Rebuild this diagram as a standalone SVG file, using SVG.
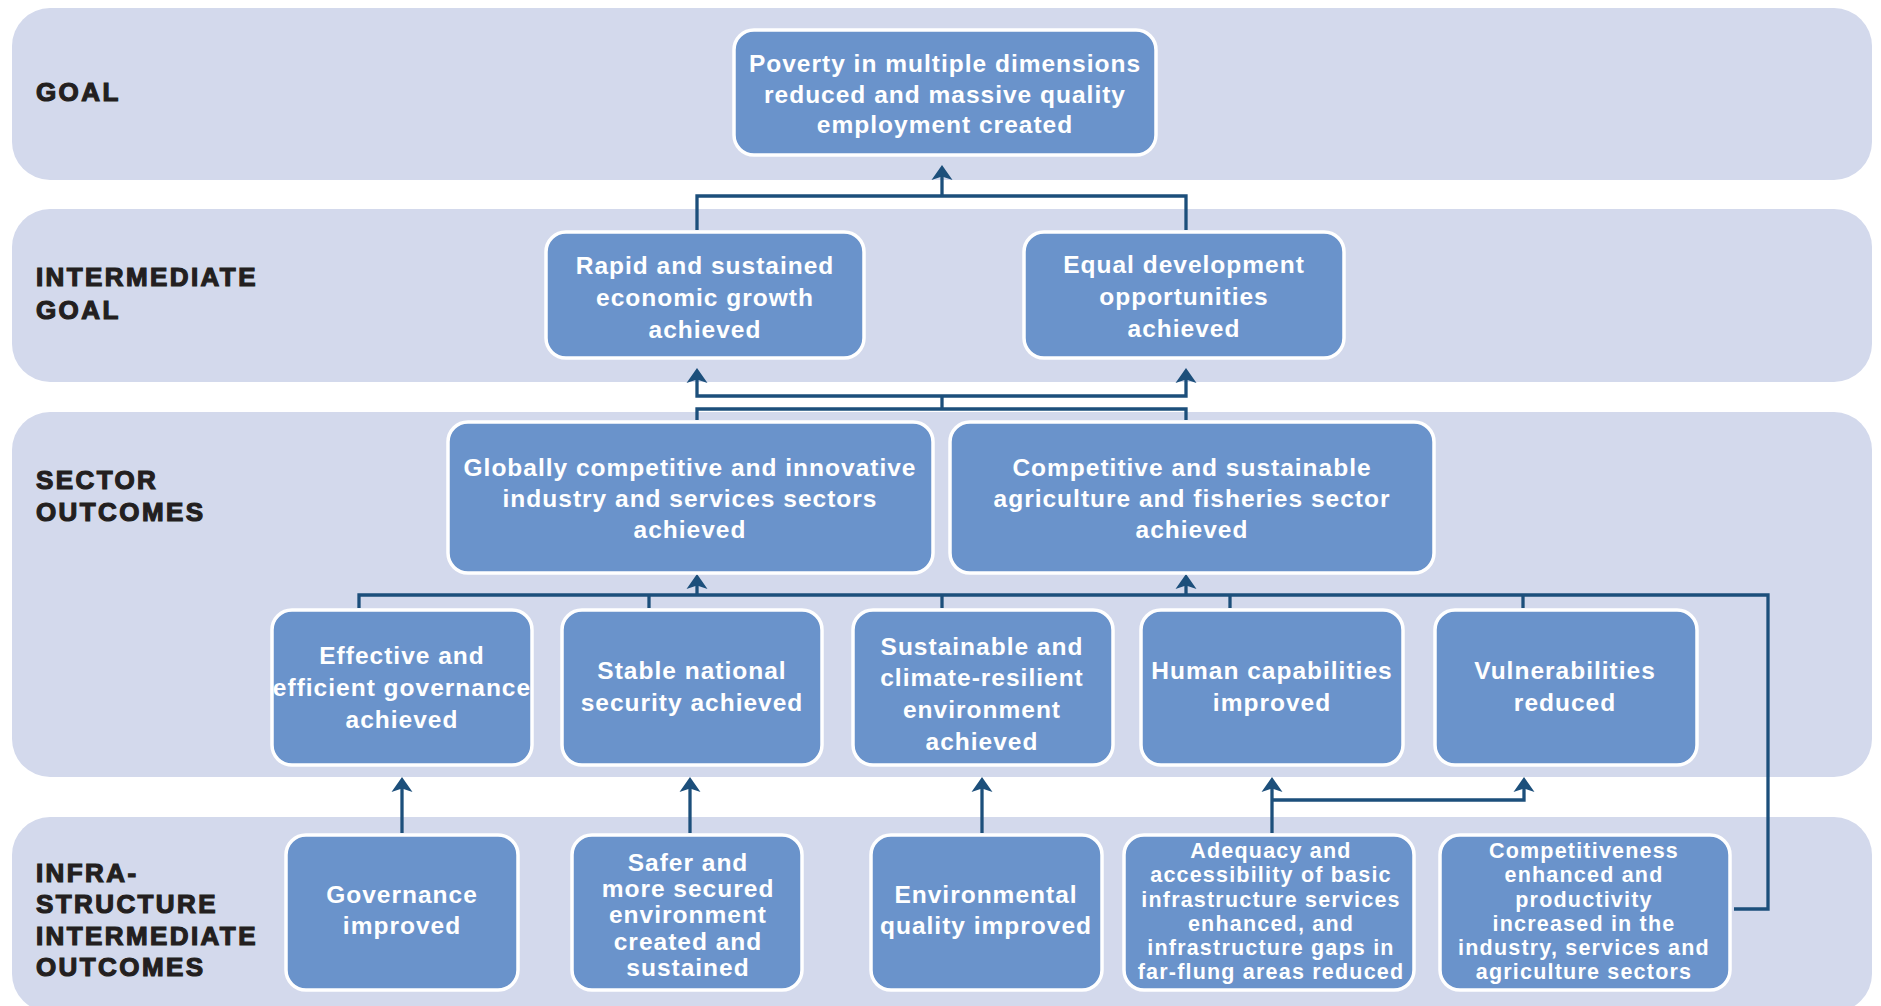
<svg xmlns="http://www.w3.org/2000/svg" width="1881" height="1006" viewBox="0 0 1881 1006">
  <defs>
    <style>
      .band { fill: #d3d9ec; }
      .node rect { fill: #6a93cb; stroke: #ffffff; stroke-width: 3.5; }
      .node text { font-family: "Liberation Sans", Arial, sans-serif; font-weight: bold; font-size: 24.5px; fill: #ffffff; text-anchor: middle; letter-spacing: 1px; }
      .node text.small { font-size: 21.5px; letter-spacing: 1.2px; }
      .lbl { font-family: "Liberation Sans", Arial, sans-serif; font-weight: bold; font-size: 26px; fill: #231f20; stroke: #231f20; stroke-width: 1.2px; letter-spacing: 2.4px; }
      .conn path { fill: none; stroke: #1c4f7b; stroke-width: 3.3; stroke-linejoin: miter; }
    </style>
    <marker id="arrow" markerUnits="userSpaceOnUse" viewBox="0 -11 16 22" refX="11" refY="0" markerWidth="16" markerHeight="22" orient="auto-start-reverse">
      <path d="M15,0 L0,-10.5 L3.5,0 L0,10.5 Z" fill="#1c4f7b"/>
    </marker>
  </defs>

  <!-- level bands -->
  <g id="bands">
    <rect class="band" x="12" y="8" width="1860" height="172" rx="38"/>
    <rect class="band" x="12" y="209" width="1860" height="173" rx="38"/>
    <rect class="band" x="12" y="412" width="1860" height="365" rx="38"/>
    <rect class="band" x="12" y="817" width="1860" height="195" rx="38"/>
  </g>

  <!-- level labels -->
  <g id="labels">
    <text class="lbl" x="36" y="101">GOAL</text>
    <text class="lbl" x="36" y="286">INTERMEDIATE</text>
    <text class="lbl" x="36" y="319">GOAL</text>
    <text class="lbl" x="36" y="489">SECTOR</text>
    <text class="lbl" x="36" y="521">OUTCOMES</text>
    <text class="lbl" x="36" y="882">INFRA-</text>
    <text class="lbl" x="36" y="913">STRUCTURE</text>
    <text class="lbl" x="36" y="945">INTERMEDIATE</text>
    <text class="lbl" x="36" y="976">OUTCOMES</text>
  </g>

  <!-- connectors -->
  <g id="connectors" class="conn">
    <path d="M697,230 V196 H1186 V230"/>
    <path d="M942,196 V169" marker-end="url(#arrow)"/>

    <path d="M697,372 V396 H1186 V372" marker-start="url(#arrow)" marker-end="url(#arrow)"/>
    <path d="M942,396 V409"/>
    <path d="M697,420 V409 H1186 V420"/>

    <path d="M359,608 V595 H1768 V909 H1734"/>
    <path d="M649,595 V608"/>
    <path d="M942,595 V608"/>
    <path d="M1230,595 V608"/>
    <path d="M1523,595 V608"/>
    <path d="M697,595 V578" marker-end="url(#arrow)"/>
    <path d="M1186,595 V578" marker-end="url(#arrow)"/>

    <path d="M402,833 V781" marker-end="url(#arrow)"/>
    <path d="M690,833 V781" marker-end="url(#arrow)"/>
    <path d="M982,833 V781" marker-end="url(#arrow)"/>
    <path d="M1272,833 V781" marker-end="url(#arrow)"/>
    <path d="M1272,800 H1524 V781" marker-end="url(#arrow)"/>
  </g>

  <!-- goal -->
  <g id="goal" class="node">
    <rect x="734" y="30" width="422" height="125" rx="20"/>
    <text x="945" y="72">Poverty in multiple dimensions</text>
    <text x="945" y="102.5">reduced and massive quality</text>
    <text x="945" y="133">employment created</text>
  </g>

  <!-- intermediate goals -->
  <g id="growth" class="node">
    <rect x="546" y="232" width="318" height="126" rx="20"/>
    <text x="705" y="274">Rapid and sustained</text>
    <text x="705" y="306">economic growth</text>
    <text x="705" y="338">achieved</text>
  </g>
  <g id="equal-opportunities" class="node">
    <rect x="1024" y="232" width="320" height="126" rx="20"/>
    <text x="1184" y="273">Equal development</text>
    <text x="1184" y="305">opportunities</text>
    <text x="1184" y="337">achieved</text>
  </g>

  <!-- sector outcomes -->
  <g id="industry-services" class="node">
    <rect x="448" y="422" width="485" height="151" rx="20"/>
    <text x="690" y="476">Globally competitive and innovative</text>
    <text x="690" y="507">industry and services sectors</text>
    <text x="690" y="538">achieved</text>
  </g>
  <g id="agriculture-fisheries" class="node">
    <rect x="950" y="422" width="484" height="151" rx="20"/>
    <text x="1192" y="476">Competitive and sustainable</text>
    <text x="1192" y="507">agriculture and fisheries sector</text>
    <text x="1192" y="538">achieved</text>
  </g>

  <g id="governance" class="node">
    <rect x="272" y="610" width="260" height="155" rx="20"/>
    <text x="402" y="664">Effective and</text>
    <text x="402" y="696">efficient governance</text>
    <text x="402" y="728">achieved</text>
  </g>
  <g id="security" class="node">
    <rect x="562" y="610" width="260" height="155" rx="20"/>
    <text x="692" y="679">Stable national</text>
    <text x="692" y="711">security achieved</text>
  </g>
  <g id="environment" class="node">
    <rect x="853" y="610" width="260" height="155" rx="20"/>
    <text x="982" y="655">Sustainable and</text>
    <text x="982" y="686">climate-resilient</text>
    <text x="982" y="718">environment</text>
    <text x="982" y="750">achieved</text>
  </g>
  <g id="human-capabilities" class="node">
    <rect x="1141" y="610" width="262" height="155" rx="20"/>
    <text x="1272" y="679">Human capabilities</text>
    <text x="1272" y="711">improved</text>
  </g>
  <g id="vulnerabilities" class="node">
    <rect x="1435" y="610" width="262" height="155" rx="20"/>
    <text x="1565" y="679">Vulnerabilities</text>
    <text x="1565" y="711">reduced</text>
  </g>

  <!-- infrastructure intermediate outcomes -->
  <g id="governance-improved" class="node">
    <rect x="286" y="835" width="232" height="155" rx="20"/>
    <text x="402" y="903">Governance</text>
    <text x="402" y="934">improved</text>
  </g>
  <g id="safer-environment" class="node">
    <rect x="572" y="835" width="230" height="155" rx="20"/>
    <text x="688" y="871">Safer and</text>
    <text x="688" y="897">more secured</text>
    <text x="688" y="923">environment</text>
    <text x="688" y="950">created and</text>
    <text x="688" y="976">sustained</text>
  </g>
  <g id="environmental-quality" class="node">
    <rect x="871" y="835" width="231" height="155" rx="20"/>
    <text x="986" y="903">Environmental</text>
    <text x="986" y="934">quality improved</text>
  </g>
  <g id="basic-infrastructure" class="node">
    <rect x="1124" y="835" width="290" height="155" rx="20"/>
    <text class="small" x="1271" y="858">Adequacy and</text>
    <text class="small" x="1271" y="882">accessibility of basic</text>
    <text class="small" x="1271" y="907">infrastructure services</text>
    <text class="small" x="1271" y="931">enhanced, and</text>
    <text class="small" x="1271" y="955">infrastructure gaps in</text>
    <text class="small" x="1271" y="979">far-flung areas reduced</text>
  </g>
  <g id="competitiveness" class="node">
    <rect x="1440" y="835" width="290" height="155" rx="20"/>
    <text class="small" x="1584" y="858">Competitiveness</text>
    <text class="small" x="1584" y="882">enhanced and</text>
    <text class="small" x="1584" y="907">productivity</text>
    <text class="small" x="1584" y="931">increased in the</text>
    <text class="small" x="1584" y="955">industry, services and</text>
    <text class="small" x="1584" y="979">agriculture sectors</text>
  </g>
</svg>
